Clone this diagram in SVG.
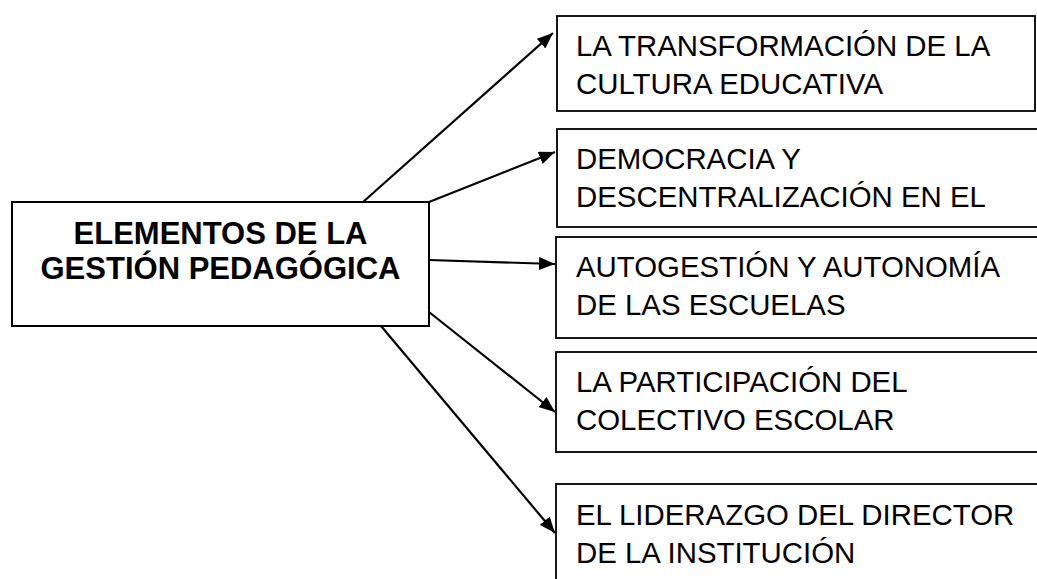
<svg xmlns="http://www.w3.org/2000/svg" width="1037" height="579" viewBox="0 0 1037 579">
<style>
.box{fill:#fff;stroke:#000;stroke-width:1.8}
.main{fill:#fff;stroke:#000;stroke-width:2}
.t{font-family:"Liberation Sans",Arial,sans-serif;font-size:29.4px;fill:#000}
.tb{font-family:"Liberation Sans",Arial,sans-serif;font-size:31px;font-weight:bold;fill:#000;text-anchor:middle}
.c{stroke:#000;stroke-width:2.2;fill:none;marker-end:url(#ah)}
</style>
<defs>
<marker id="ah" markerUnits="userSpaceOnUse" markerWidth="17" markerHeight="13" refX="16" refY="6.5" orient="auto">
<path d="M0,0 L16,6.5 L0,13 z" fill="#000"/>
</marker>
</defs>
<rect width="1037" height="579" fill="#fff"/>
<g id="connectors">
<line class="c" x1="363" y1="202" x2="553" y2="33"/>
<line class="c" x1="429" y1="202" x2="555" y2="152"/>
<line class="c" x1="429" y1="260" x2="555" y2="264"/>
<line class="c" x1="429" y1="312" x2="555" y2="412"/>
<line class="c" x1="381" y1="326" x2="555" y2="533"/>
</g>
<g id="main">
<rect class="main" x="12" y="202" width="417" height="124"/>
<text class="tb" x="220.5" y="243.5">ELEMENTOS DE LA</text>
<text class="tb" x="220.5" y="278.5">GESTIÓN PEDAGÓGICA</text>
</g>
<g id="n1">
<rect class="box" x="557" y="16" width="478" height="95"/>
<text class="t" x="576" y="55.5">LA TRANSFORMACIÓN DE LA</text>
<text class="t" x="576" y="93.5">CULTURA EDUCATIVA</text>
</g>
<g id="n2">
<rect class="box" x="557" y="129" width="490" height="98"/>
<text class="t" x="576" y="168.5">DEMOCRACIA Y</text>
<text class="t" x="576" y="206.5">DESCENTRALIZACIÓN EN EL</text>
</g>
<g id="n3">
<rect class="box" x="556" y="237" width="490" height="101"/>
<text class="t" x="576" y="276.5">AUTOGESTIÓN Y AUTONOMÍA</text>
<text class="t" x="576" y="314.5">DE LAS ESCUELAS</text>
</g>
<g id="n4">
<rect class="box" x="556" y="352" width="490" height="100"/>
<text class="t" x="576" y="391.5">LA PARTICIPACIÓN DEL</text>
<text class="t" x="576" y="429.5">COLECTIVO ESCOLAR</text>
</g>
<g id="n5">
<rect class="box" x="556" y="484" width="490" height="110"/>
<text class="t" x="576" y="524.5">EL LIDERAZGO DEL DIRECTOR</text>
<text class="t" x="576" y="562.5">DE LA INSTITUCIÓN</text>
</g>
</svg>
